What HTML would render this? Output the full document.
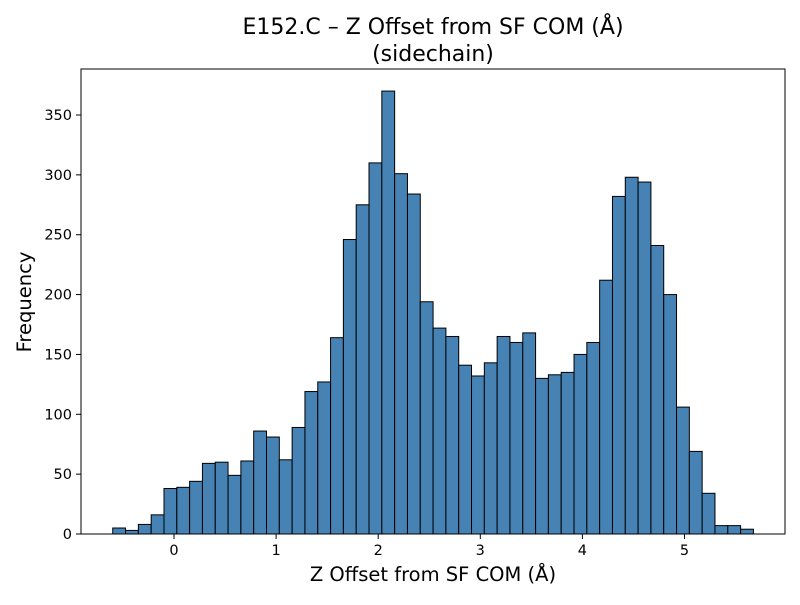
<!DOCTYPE html>
<html><head><meta charset="utf-8"><style>
body{margin:0;background:#fff;}
svg text{font-family:"DejaVu Sans","Liberation Sans",sans-serif;}
</style></head><body>
<svg id="chart" width="800" height="600">
<text x="433" y="34" font-size="22" text-anchor="middle">E152.C – Z Offset from SF COM (Å)</text>
<text x="433" y="61" font-size="22" text-anchor="middle">(sidechain)</text>
<g id="bars"></g>
<rect x="81" y="69" width="704" height="465" fill="none" stroke="#000" stroke-width="1"/>
<g id="xt"></g>
<g id="yt"></g>
<text x="433" y="581" font-size="19.5" text-anchor="middle">Z Offset from SF COM (Å)</text>
<text transform="translate(31,302) rotate(-90)" font-size="19.5" text-anchor="middle">Frequency</text>
</svg>
<script>
const binStart = -0.6;
const binWidth = 0.1255;
const counts = [5,3,8,16,38,39,44,59,60,49,61,86,81,62,89,119,127,164,246,275,310,370,301,284,194,172,165,141,132,143,165,160,168,130,133,135,150,160,212,282,298,294,241,200,106,69,34,7,7,4];
const xTicks = [0,1,2,3,4,5];
const yTicks = [0,50,100,150,200,250,300,350];
const NS="http://www.w3.org/2000/svg";
const xs = v => 174 + v*102.1;
const ys = v => 534 - v*1.1971;
const bars=document.getElementById('bars');
counts.forEach((c,i)=>{
  const r=document.createElementNS(NS,'rect');
  const x0=xs(binStart+i*binWidth), x1=xs(binStart+(i+1)*binWidth);
  r.setAttribute('x',x0);r.setAttribute('width',x1-x0);
  r.setAttribute('y',ys(c));r.setAttribute('height',ys(0)-ys(c));
  r.setAttribute('fill','#4682b4');r.setAttribute('stroke','#000');r.setAttribute('stroke-width','1');
  
  
  bars.appendChild(r);
});
const xt=document.getElementById('xt');
xTicks.forEach(t=>{
  const l=document.createElementNS(NS,'line');
  l.setAttribute('x1',xs(t));l.setAttribute('x2',xs(t));l.setAttribute('y1',534);l.setAttribute('y2',539);l.setAttribute('stroke','#000');
  
  
  xt.appendChild(l);
  const s=document.createElementNS(NS,'text');
  s.setAttribute('x',xs(t));s.setAttribute('y',555);s.setAttribute('font-size','14.5');s.setAttribute('text-anchor','middle');
  s.textContent=t;
  
  
  xt.appendChild(s);
});
const yt=document.getElementById('yt');
yTicks.forEach(t=>{
  const l=document.createElementNS(NS,'line');
  l.setAttribute('x1',76);l.setAttribute('x2',81);l.setAttribute('y1',ys(t));l.setAttribute('y2',ys(t));l.setAttribute('stroke','#000');
  
  
  yt.appendChild(l);
  const s=document.createElementNS(NS,'text');
  s.setAttribute('x',72);s.setAttribute('y',ys(t)+5);s.setAttribute('font-size','14.5');s.setAttribute('text-anchor','end');
  s.textContent=t;
  
  
  yt.appendChild(s);
});
</script>
</body></html>
